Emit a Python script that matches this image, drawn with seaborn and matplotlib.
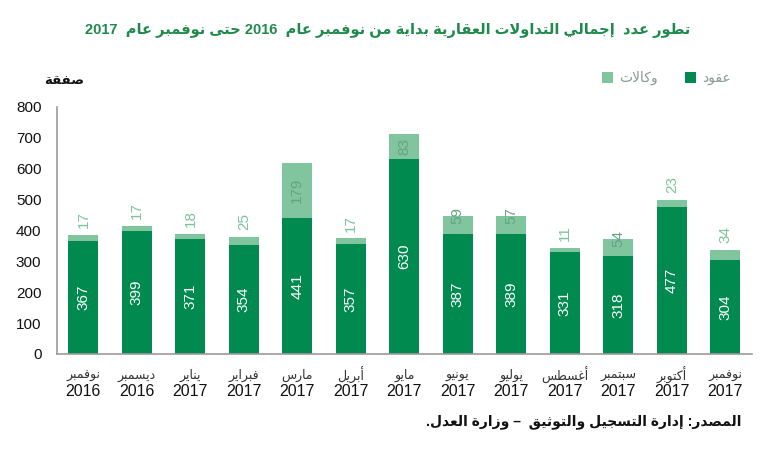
import re
import matplotlib
matplotlib.use("Agg")
import matplotlib.pyplot as plt
from matplotlib.patches import Patch
import matplotlib.transforms as mtrans
import seaborn as sns
import pandas as pd

# ---------------- data ----------------
months = ["نوفمبر", "ديسمبر", "يناير", "فبراير", "مارس", "أبريل", "مايو",
          "يونيو", "يوليو", "أغسطس", "سبتمبر", "أكتوبر", "نوفمبر"]
years = ["2016", "2016", "2017", "2017", "2017", "2017", "2017",
         "2017", "2017", "2017", "2017", "2017", "2017"]
contracts = [367, 399, 371, 354, 441, 357, 630, 387, 389, 331, 318, 477, 304]
agencies = [17, 17, 18, 25, 179, 17, 83, 59, 57, 11, 54, 23, 34]
yticks = [0, 100, 200, 300, 400, 500, 600, 700, 800]

title_txt = "تطور عدد  إجمالي التداولات العقارية بداية من نوفمبر عام  2016 حتى نوفمبر عام  2017"
ylabel_txt = "صفقة"
legend_contracts = "عقود"
legend_agencies = "وكالات"
source_txt = "المصدر: إدارة التسجيل والتوثيق  – وزارة العدل."

# ------------- minimal Arabic shaping (matplotlib has no bidi/shaping) -------------
_RIGHT = {'آ': 0xFE81, 'أ': 0xFE83, 'ؤ': 0xFE85, 'إ': 0xFE87, 'ا': 0xFE8D, 'ة': 0xFE93,
          'د': 0xFEA9, 'ذ': 0xFEAB, 'ر': 0xFEAD, 'ز': 0xFEAF, 'و': 0xFEED, 'ى': 0xFEEF}
_DUAL = {'ئ': 0xFE89, 'ب': 0xFE8F, 'ت': 0xFE95, 'ث': 0xFE99, 'ج': 0xFE9D, 'ح': 0xFEA1,
         'خ': 0xFEA5, 'س': 0xFEB1, 'ش': 0xFEB5, 'ص': 0xFEB9, 'ض': 0xFEBD, 'ط': 0xFEC1,
         'ظ': 0xFEC5, 'ع': 0xFEC9, 'غ': 0xFECD, 'ف': 0xFED1, 'ق': 0xFED5, 'ك': 0xFED9,
         'ل': 0xFEDD, 'م': 0xFEE1, 'ن': 0xFEE5, 'ه': 0xFEE9, 'ي': 0xFEF1}
_LAMALEF = {'آ': 0xFEF5, 'أ': 0xFEF7, 'إ': 0xFEF9, 'ا': 0xFEFB}


def _shape(s):
    out = []
    i, n = 0, len(s)
    while i < n:
        c = s[i]
        prev_conn = i > 0 and s[i - 1] in _DUAL
        if c == 'ل' and i + 1 < n and s[i + 1] in _LAMALEF:
            out.append(chr(_LAMALEF[s[i + 1]] + (1 if prev_conn else 0)))
            i += 2
            continue
        nxt = s[i + 1] if i + 1 < n else ''
        if c in _DUAL:
            b = _DUAL[c]
            nc = nxt in _DUAL or nxt in _RIGHT
            if prev_conn and nc:
                f = b + 3
            elif prev_conn:
                f = b + 1
            elif nc:
                f = b + 2
            else:
                f = b
            out.append(chr(f))
        elif c in _RIGHT:
            out.append(chr(_RIGHT[c] + (1 if prev_conn else 0)))
        else:
            out.append(c)
        i += 1
    return ''.join(out)


def rtl(s):
    t = _shape(s)[::-1]
    return re.sub(r'[0-9]+', lambda m: m.group(0)[::-1], t)


# ---------------- style ----------------
sns.set_style("white")
plt.rcParams['font.family'] = ['Liberation Sans', 'DejaVu Sans']

DARK = "#008a4f"
LIGHT = "#80c59d"
TITLE_GREEN = "#1e8a4c"

df = pd.DataFrame({
    "idx": list(range(len(contracts))),
    "contracts": contracts,
    "total": [c + a for c, a in zip(contracts, agencies)],
})

fig = plt.figure(figsize=(7.7, 4.55), dpi=100)
ax = fig.add_axes([0.0736, 0.222, 0.9030, 0.543])

sns.barplot(data=df, x="idx", y="total", color=LIGHT, width=0.56, ax=ax,
            saturation=1, edgecolor="none")
sns.barplot(data=df, x="idx", y="contracts", color=DARK, width=0.56, ax=ax,
            saturation=1, edgecolor="none")

ax.set_xlim(-0.5, len(contracts) - 0.5)
ax.set_ylim(0, 800)
ax.set_yticks(yticks)
ax.set_yticklabels([str(v) for v in yticks], fontsize=11, color="#111111")
ax.tick_params(axis='y', length=0, pad=11)
ax.set_xticks(range(len(contracts)))
ax.set_xticklabels([""] * len(contracts))
ax.tick_params(axis='x', length=0)
ax.set_xlabel("")
ax.set_ylabel("")
for sp in ["top", "right"]:
    ax.spines[sp].set_visible(False)
for sp in ["left", "bottom"]:
    ax.spines[sp].set_color("#a09a9a")
    ax.spines[sp].set_linewidth(1.2)

# x labels (two lines)
trans = mtrans.blended_transform_factory(ax.transData, ax.transAxes)
for i, (m, y) in enumerate(zip(months, years)):
    ax.text(i, -0.088, rtl(m), transform=trans, ha="center", va="center",
            fontsize=9, color="#333333")
    ax.text(i, -0.150, y, transform=trans, ha="center", va="center",
            fontsize=11.5, color="#111111")

# bar value labels
for i, (c, a) in enumerate(zip(contracts, agencies)):
    ax.text(i, c / 2, str(c), rotation=90, ha="center", va="center",
            fontsize=11, color="white")
    top = c + a
    if a >= 60:
        ax.text(i, c + a / 2, str(a), rotation=90, ha="center", va="center",
                fontsize=11, color="#66a283")
    elif a >= 50:
        ax.text(i, top + 3, str(a), rotation=90, ha="center", va="center",
                fontsize=11, color="#66a283")
    else:
        ax.annotate(str(a), (i, top), xytext=(0, 5), textcoords="offset points",
                    rotation=90, ha="center", va="bottom",
                    fontsize=11, color="#7cc49a")

# title, y label, source
fig.text(0.503, 0.932, rtl(title_txt), ha="center", va="center",
         fontsize=10.5, fontweight="bold", color=TITLE_GREEN)
fig.text(0.083, 0.822, rtl(ylabel_txt), ha="center", va="center",
         fontsize=9.5, fontweight="bold", color="#111111")
fig.text(0.963, 0.073, rtl(source_txt), ha="right", va="center",
         fontsize=10, fontweight="bold", color="#111111")

# legend
handles = [Patch(facecolor=LIGHT, edgecolor="none", label=rtl(legend_agencies)),
           Patch(facecolor=DARK, edgecolor="none", label=rtl(legend_contracts))]
leg = fig.legend(handles=handles, loc="center right", bbox_to_anchor=(0.965, 0.828),
                 ncol=2, frameon=False, fontsize=10, handlelength=0.8, handleheight=0.8,
                 handletextpad=0.4, columnspacing=2.0)
for t in leg.get_texts():
    t.set_color("#8a9a90")

fig.savefig("out.png", dpi=100)
